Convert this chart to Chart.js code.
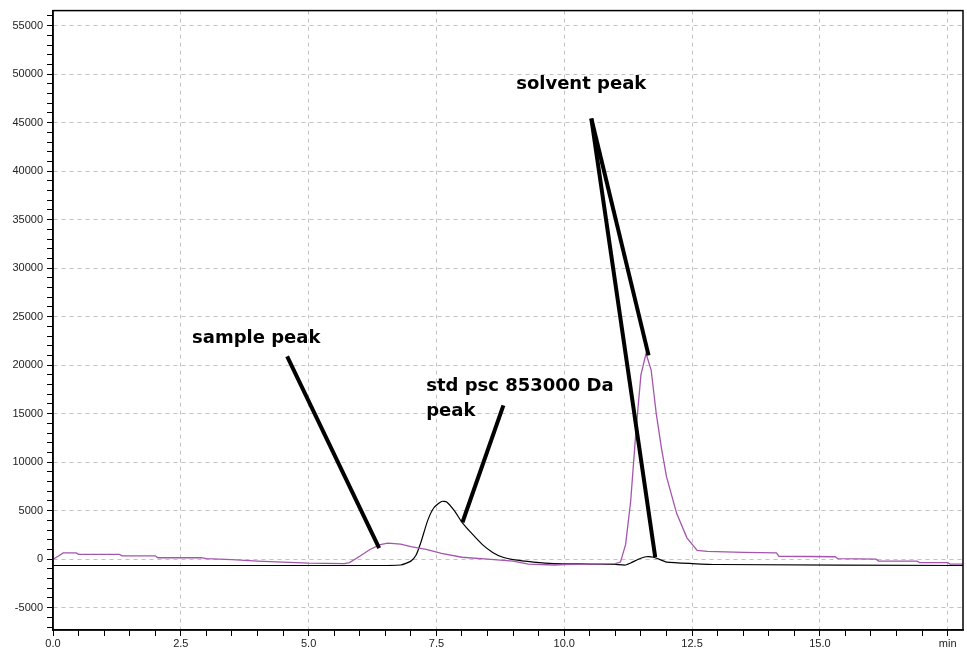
<!DOCTYPE html>
<html>
<head>
<meta charset="utf-8">
<script src="https://cdn.jsdelivr.net/npm/chart.js@4/dist/chart.umd.min.js"></script>
<style>
html,body{margin:0;padding:0;background:#fff;}
#wrap{width:967px;height:650px;}
</style>
</head>
<body>
<div id="wrap"><canvas id="c" width="967" height="650"></canvas></div>
<script>
// ---- data (time in min, signal) ----
const sampleTime = [0.0,0.1,0.2,0.45,0.5,1.3,1.35,2.0,2.05,2.9,3.0,3.5,4.0,4.5,5.0,5.7,5.8,6.0,6.2,6.4,6.55,6.8,7.0,7.3,7.6,8.0,8.5,9.0,9.3,9.8,10.0,10.5,11.0,11.1,11.2,11.3,11.4,11.5,11.6,11.7,11.8,11.9,12.0,12.2,12.4,12.6,12.8,13.5,14.15,14.2,15.3,15.35,16.1,16.15,16.9,16.95,17.5,17.55,17.8];
const sampleValue = [0,300,650,650,500,500,350,350,150,150,50,-50,-200,-300,-400,-450,-350,300,1000,1500,1650,1550,1300,1000,600,200,0,-200,-500,-600,-550,-500,-450,-300,1500,6000,13000,19000,21200,19500,15000,11500,8500,4700,2200,900,800,700,650,300,250,50,0,-200,-200,-350,-350,-500,-500];
const stdTime = [0.0,3.0,6.0,6.8,7.0,7.1,7.2,7.33,7.45,7.6,7.7,7.85,8.0,8.2,8.4,8.6,8.8,9.0,9.4,9.8,10.5,11.0,11.2,11.3,11.45,11.6,11.75,11.9,12.0,12.5,13.0,17.8];
const stdValue = [-650,-650,-650,-600,-200,400,1800,4000,5300,5950,5900,5000,3800,2600,1500,700,200,-50,-300,-450,-500,-550,-600,-400,0,250,200,-100,-300,-450,-550,-650];
const xTickLabels = {0:'0.0',2.5:'2.5',5:'5.0',7.5:'7.5',10:'10.0',12.5:'12.5',15:'15.0',17.5:'min'};
const yTickLabels = [-5000,0,5000,10000,15000,20000,25000,30000,35000,40000,45000,50000,55000];
const xMinorStep = 0.5, yMinorStep = 1000;
// annotation texts and pointer lines (data units)
const annotTexts = [
  {text:'solvent peak', x:9.06, y:48510},
  {text:'sample peak', x:2.72, y:22250},
  {text:'std psc 853000 Da', x:7.30, y:17300},
  {text:'peak', x:7.30, y:14800}
];
const pointerLines = [
  [4.58,20910,6.38,1133],
  [8.81,15860,8.01,3810],
  [10.53,45420,11.65,21010],
  [10.53,45420,11.78,206]
];

const toXY = (t,v)=>t.map((x,i)=>({x:x,y:v[i]}));
const near = (v,s)=>Math.abs(v/s-Math.round(v/s))<1e-6;
function stepTicks(min,max,step){
  const out=[];
  for(let k=Math.ceil(min/step); k*step<=max+1e-9; k++) out.push({value:+(k*step).toFixed(6)});
  return out;
}

const annotPlugin = {
  id:'annot',
  afterDatasetsDraw(chart){
    const {ctx, chartArea:a, scales} = chart;
    const xs = scales.x, ys = scales.y;
    ctx.save();
    ctx.strokeStyle='#000';
    ctx.lineWidth=1.5;
    ctx.strokeRect(a.left,a.top,a.right-a.left,a.bottom-a.top);
    ctx.lineWidth=4;
    ctx.lineCap='butt';
    for(const [x1,y1,x2,y2] of pointerLines){
      ctx.beginPath();
      ctx.moveTo(xs.getPixelForValue(x1), ys.getPixelForValue(y1));
      ctx.lineTo(xs.getPixelForValue(x2), ys.getPixelForValue(y2));
      ctx.stroke();
    }
    ctx.fillStyle='#000';
    ctx.font='bold 18px "DejaVu Sans"';
    ctx.textBaseline='alphabetic';
    ctx.textAlign='left';
    for(const t of annotTexts){
      ctx.fillText(t.text, xs.getPixelForValue(t.x), ys.getPixelForValue(t.y));
    }
    ctx.restore();
  }
};

new Chart(document.getElementById('c'),{
  type:'line',
  data:{datasets:[
    {label:'sample', data:toXY(sampleTime,sampleValue), borderColor:'#a455ad', borderWidth:1.3, pointRadius:0, tension:0, fill:false},
    {label:'std', data:toXY(stdTime,stdValue), borderColor:'#000000', borderWidth:1.2, pointRadius:0, tension:0.2, fill:false}
  ]},
  options:{
    responsive:false, animation:false,
    layout:{padding:{top:10,right:4,left:0,bottom:0}},
    plugins:{legend:{display:false}, tooltip:{enabled:false}},
    scales:{
      x:{type:'linear', min:0, max:17.8,
        afterBuildTicks(ax){ ax.ticks = stepTicks(ax.min, ax.max, xMinorStep); },
        afterFit(ax){ ax.height=20; },
        ticks:{autoSkip:false, maxRotation:0, minRotation:0, padding:1, color:'#222',
          font:{family:'"Liberation Sans", Arial', size:11},
          callback:(v)=>{ for(const k in xTickLabels){ if(Math.abs(+k-v)<1e-6) return xTickLabels[k]; } return ''; }},
        grid:{drawOnChartArea:true, tickLength:6, tickBorderDash:[],
          color:(c)=> (c.tick && near(c.tick.value,2.5) && c.tick.value>0.01) ? '#c2c2c2' : 'rgba(0,0,0,0)',
          tickColor:'#000', lineWidth:1, tickWidth:1},
        border:{display:true, color:'#000', width:1.5, dash:[4,4]}
      },
      y:{type:'linear', min:-7300, max:56550,
        afterBuildTicks(ax){ ax.ticks = stepTicks(ax.min, ax.max, yMinorStep); },
        afterFit(ax){ ax.width=53; },
        ticks:{autoSkip:false, padding:4, color:'#222',
          font:{family:'"Liberation Sans", Arial', size:11},
          callback:(v)=> yTickLabels.some(l=>Math.abs(l-v)<1e-6) ? String(Math.round(v)) : ''},
        grid:{drawOnChartArea:true, tickLength:6, tickBorderDash:[],
          color:(c)=> (c.tick && yTickLabels.some(l=>Math.abs(l-c.tick.value)<1e-6)) ? '#c2c2c2' : 'rgba(0,0,0,0)',
          tickColor:'#000', lineWidth:1, tickWidth:1},
        border:{display:true, color:'#000', width:1.5, dash:[4,4]}
      }
    }
  },
  plugins:[annotPlugin]
});
</script>
</body>
</html>
